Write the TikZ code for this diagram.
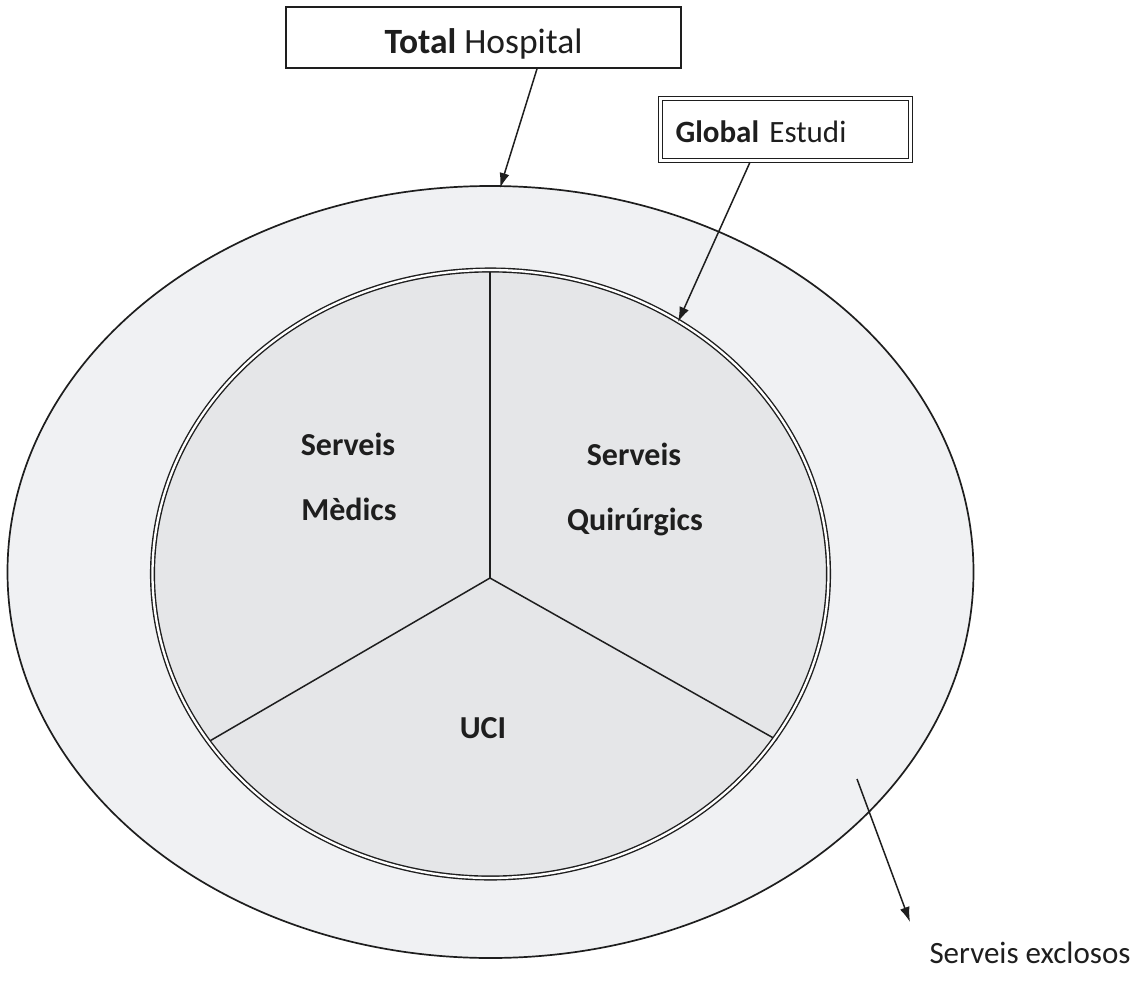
\documentclass[tikz,border=0pt]{standalone}
\usepackage{fontspec}
\setmainfont{Carlito}
\usetikzlibrary{arrows.meta}
\definecolor{ringgray}{HTML}{F0F1F3}
\definecolor{coregray}{HTML}{E5E6E8}
\definecolor{ink}{HTML}{1E1E1E}
\tikzset{
  arr/.style={draw=ink, line width=1.5pt, -{Latex[length=15pt,width=10pt]}},
  outline/.style={draw=ink, line width=1.7pt},
  spoke/.style={draw=ink, line width=1.5pt},
  lbl/.style={font=\fontsize{32}{36}\selectfont\bfseries, text=ink, inner sep=0pt, anchor=base},
}
\begin{document}
\begin{tikzpicture}[x=1pt,y=-1pt]
\useasboundingbox (0,0) rectangle (1144,985);
% outer ring
\path[outline, fill=ringgray] (490.5,572) ellipse [x radius=483pt, y radius=386pt];
% inner study region
\path[fill=coregray] (490.5,574) ellipse [x radius=339pt, y radius=305pt];
\coordinate (c) at (490,578);
\coordinate (ptop) at (490,270);
\coordinate (pleft) at (208,742);
\coordinate (pright) at (777,740);
\draw[spoke] (c) -- (ptop);
\draw[spoke] (c) -- (pleft);
\draw[spoke] (c) -- (pright);
\draw[draw=ink, line width=1.4pt, double=white, double distance=2.3pt] (490.5,574) ellipse [x radius=338pt, y radius=304pt];
% labels
\node[lbl] (sm1) at (348,455) {Serveis};
\node[lbl] (sm2) at (349,520) {Mèdics};
\node[lbl] (sq1) at (634,465) {Serveis};
\node[lbl] (sq2) at (635,530) {Quirúrgics};
\node[lbl] (uci) at (483,738) {UCI};
% boxes
\node[outline, fill=white, minimum width=395pt, inner sep=0pt, text height=46pt, text depth=15pt,
      font=\fontsize{35.5}{40}\selectfont, text=ink] (tot) at (483.5,37.5) {\textbf{Total}~Hospital};
\node[draw=ink, line width=1.4pt, double=white, double distance=2.4pt, fill=white,
      text height=43.5pt, text depth=18.5pt, text width=220pt, align=left, inner xsep=15pt, inner ysep=0pt,
      font=\fontsize{31}{36}\selectfont, text=ink] (glob) at (785.5,129.5) {\textbf{Global}~Estudi};
\node[font=\fontsize{31}{36}\selectfont, text=ink, inner sep=0pt, anchor=base] (excl) at (1030,963) {Serveis exclosos};
% connectors
\coordinate (tipTot) at (500,188);
\coordinate (tipGlob) at (678,322);
\coordinate (exStart) at (857,779);
\coordinate (exEnd) at (910,922);
\draw[arr] ([xshift=53.5pt]tot.south) -- (tipTot);
\draw[arr] ([xshift=-35.5pt,yshift=-1pt]glob.south) -- (tipGlob);
\draw[arr] (exStart) -- (exEnd);
\end{tikzpicture}
\end{document}
